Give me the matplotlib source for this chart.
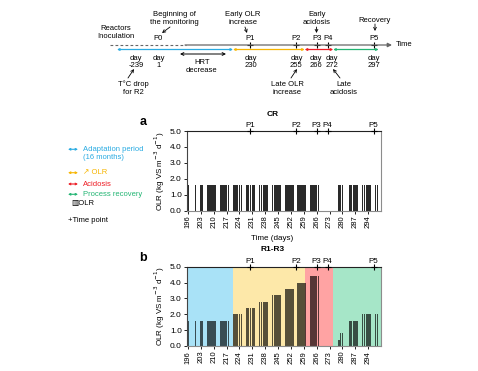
import numpy as np
import matplotlib.pyplot as plt

plt.rcParams['font.family'] = ['Liberation Sans', 'DejaVu Sans']

W, H = 478, 371

# feeding days (one bar per day) and OLR values
feed_days = [196, 200, 203, 204,
             207, 208, 209, 210, 211,
             214, 215, 216, 217, 218,
             221, 222, 223, 224, 225,
             228, 229, 230, 231, 232,
             235, 236, 237, 238, 239,
             242, 243, 244, 245, 246,
             249, 250, 251, 252, 253,
             256, 257, 258, 259, 260,
             263, 264, 265, 266, 267,
             278, 279, 280,
             284, 285, 286, 287, 288,
             291, 292, 293, 294, 295,
             298, 299]
olr_cr = [1.6] * len(feed_days)
olr_r = [1.6, 1.6, 1.6, 1.6,
         1.6, 1.6, 1.6, 1.6, 1.6,
         1.6, 1.6, 1.6, 1.6, 1.6,
         2.0, 2.0, 2.0, 2.0, 2.0,
         2.4, 2.4, 2.4, 2.4, 2.4,
         2.8, 2.8, 2.8, 2.8, 2.8,
         3.2, 3.2, 3.2, 3.2, 3.2,
         3.6, 3.6, 3.6, 3.6, 3.6,
         4.0, 4.0, 4.0, 4.0, 4.0,
         4.4, 4.4, 4.4, 4.4, 4.4,
         0.4, 0.8, 0.8,
         1.6, 1.6, 1.6, 1.6, 1.6,
         2.0, 2.0, 2.0, 2.0, 2.0,
         2.0, 2.0]

tp_names = ['P1', 'P2', 'P3', 'P4', 'P5']
tp_days = [230, 255, 266, 272, 297]

phase_edges = [195.3, 220.5, 259.5, 275.0, 301]
phase_bg = ['#a9e2f7', '#fde8a9', '#ffa3a3', '#a6e6c8']
phase_line = ['#29abe2', '#f7b500', '#ed1c24', '#22b573']
phase_names = ['Adaptation period\n(16 months)', '\u2197 OLR', 'Acidosis', 'Process recovery']

xticks = [196, 203, 210, 217, 224, 231, 238, 245, 252, 259, 266, 273, 280, 287, 294]


def box(x0, y0, x1, y1):
    return [x0 / W, 1 - y1 / H, (x1 - x0) / W, (y1 - y0) / H]


fig = plt.figure(figsize=(W / 100, H / 100), dpi=100)
ax_a = fig.add_axes(box(186.7, 131, 381, 210.7))
ax_b = fig.add_axes(box(186.7, 266.7, 381, 346))

for ax, vals in [(ax_a, olr_cr), (ax_b, olr_r)]:
    if ax is ax_b:
        for i in range(4):
            ax.axvspan(phase_edges[i], phase_edges[i + 1], color=phase_bg[i], lw=0, zorder=0)
        ax.bar(feed_days, vals, width=0.85, color='black', alpha=0.66, zorder=2)
    else:
        ax.bar(feed_days, vals, width=0.85, color='#2a2a2a', zorder=2)
    ax.set_xlim(195.3, 301)
    ax.set_ylim(0, 5)
    ax.set_yticks([0, 1, 2, 3, 4, 5])
    ax.set_yticklabels(['%.1f' % v for v in [0, 1, 2, 3, 4, 5]], fontsize=6)
    ax.set_xticks(xticks)
    ax.set_xticklabels([str(t) for t in xticks], rotation=90, fontsize=5.5)
    ax.tick_params(length=2, width=0.6, pad=1.5)
    ax.set_ylabel('OLR (kg VS m$^{-3}$ d$^{-1}$)', fontsize=5.8, labelpad=2)
    ax.set_xlabel('Time (days)', fontsize=5.8)
    ax.xaxis.set_label_coords(0.44, -0.31)
    for s in ['right', 'bottom']:
        ax.spines[s].set_color('#8c8c8c')
    ax.spines['left'].set_color('#444444')
    ax.spines['top'].set_color('#222222')
    for s in ax.spines.values():
        s.set_linewidth(0.8)
    ax.plot(tp_days, [5] * len(tp_days), '+', color='black', ms=4, mew=0.8,
            clip_on=False, zorder=5)
    for n, d in zip(tp_names, tp_days):
        ax.text(d, 5.12, n, ha='center', va='bottom', fontsize=5.8)

ax_a.set_title('CR', fontsize=6, fontweight='bold', x=0.44, pad=11)
ax_b.set_title('R1-R3', fontsize=6, fontweight='bold', x=0.44, pad=11)

# overlay in pixel coordinates for timeline and legend
ov = fig.add_axes([0, 0, 1, 1], facecolor='none')
ov.set_xlim(0, W)
ov.set_ylim(H, 0)
ov.axis('off')


def dx(d):
    return ax_a.transData.transform((d, 0))[0]


fig.text(143 / W, 1 - 122 / H, 'a', fontsize=9, fontweight='bold', ha='center', va='center')
fig.text(143 / W, 1 - 258 / H, 'b', fontsize=9, fontweight='bold', ha='center', va='center')

# timeline
fs = 5.5
yl = 45
ov.plot([110, 186], [yl, yl], color='#666666', lw=0.8, ls=(0, (2.5, 2)))
ov.annotate('', xy=(392, yl), xytext=(185, yl),
            arrowprops=dict(arrowstyle='-|>', color='#666666', lw=0.9, mutation_scale=6,
                            shrinkA=0, shrinkB=0))
ov.text(396, yl, 'Time', fontsize=fs, va='center', ha='left')
ov.plot([dx(d) for d in tp_days], [yl] * len(tp_days), '+', color='black', ms=4, mew=0.8)
ov.text(158, 38, 'P0', fontsize=fs, ha='center', va='center')
for n, d in zip(tp_names, tp_days):
    ov.text(dx(d), 38, n, fontsize=fs, ha='center', va='center')

x_starts = [117] + [dx(e) for e in phase_edges[1:4]]
x_ends = [dx(e) for e in phase_edges[1:4]] + [dx(299.7)]
for i in range(4):
    ov.annotate('', xy=(x_ends[i], 49.5), xytext=(x_starts[i], 49.5),
                arrowprops=dict(arrowstyle='<->', color=phase_line[i], lw=0.9,
                                mutation_scale=3, shrinkA=0, shrinkB=0))

ov.text(136, 62, 'day\n-239', fontsize=fs, ha='center', va='center', linespacing=1.15)
ov.text(159, 62, 'day\n1', fontsize=fs, ha='center', va='center', linespacing=1.15)
day_shift = [0, 0, -1, 4, 0]
for d, s in zip(tp_days, day_shift):
    ov.text(dx(d) + s, 62, 'day\n%d' % d, fontsize=fs, ha='center', va='center', linespacing=1.15)

ov.text(116, 33, 'Reactors\nInoculation', fontsize=fs, ha='center', va='center', linespacing=1.2)
ov.text(174, 18.5, 'Beginning of\nthe monitoring', fontsize=fs, ha='center', va='center', linespacing=1.2)
ov.text(243, 18.5, 'Early OLR\nincrease', fontsize=fs, ha='center', va='center', linespacing=1.2)
ov.text(316.7, 18.5, 'Early\nacidosis', fontsize=fs, ha='center', va='center', linespacing=1.2)
ov.text(375, 20, 'Recovery', fontsize=fs, ha='center', va='center')
ov.text(201.7, 66.5, 'HRT\ndecrease', fontsize=fs, ha='center', va='center', linespacing=1.2)
ov.text(133, 88, 'T\u00b0C drop\nfor R2', fontsize=fs, ha='center', va='center', linespacing=1.2)
ov.text(287, 88, 'Late OLR\nincrease', fontsize=fs, ha='center', va='center', linespacing=1.2)
ov.text(344, 88, 'Late\nacidosis', fontsize=fs, ha='center', va='center', linespacing=1.2)

arr = dict(arrowstyle='->', color='black', lw=0.6, mutation_scale=5, shrinkA=0, shrinkB=0)
for (x0, y0), (x1, y1) in [((170, 27), (162, 33)), ((245, 27), (247, 33)),
                           ((316.5, 27), (316.5, 33)), ((375, 24), (375, 31)),
                           ((128, 78), (134, 69)), ((291, 78), (297, 69)),
                           ((340, 78), (333, 69))]:
    ov.annotate('', xy=(x1, y1), xytext=(x0, y0), arrowprops=arr)
ov.annotate('', xy=(226, 54), xytext=(180, 54),
            arrowprops=dict(arrowstyle='<->', color='black', lw=0.7, mutation_scale=5,
                            shrinkA=0, shrinkB=0))

# legend
leg_y = [149.3, 172.7, 184, 194.3]
for i in range(4):
    ov.annotate('', xy=(78, leg_y[i]), xytext=(68, leg_y[i]),
                arrowprops=dict(arrowstyle='<->', color=phase_line[i], lw=0.8,
                                mutation_scale=3, shrinkA=0, shrinkB=0))
    ov.text(83, leg_y[i] - 3.5, phase_names[i], fontsize=fs, color=phase_line[i],
            ha='left', va='top', linespacing=1.3)
ov.text(71, 203.7, '\u25a5OLR', fontsize=fs, ha='left', va='center')
ov.text(68, 220, '+Time point', fontsize=fs, ha='left', va='center')

fig.savefig('out.png', dpi=100)
